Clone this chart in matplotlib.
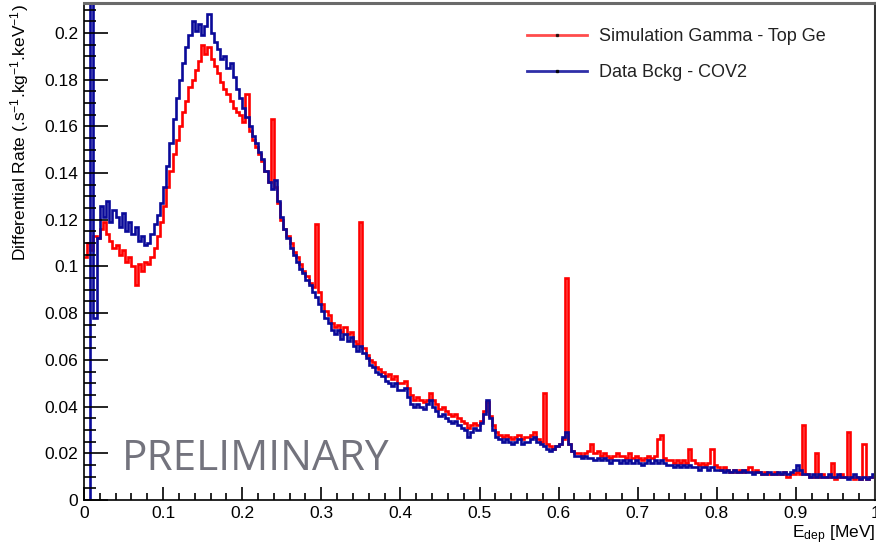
import numpy as np
import matplotlib
matplotlib.use("Agg")
import matplotlib.pyplot as plt
from matplotlib.lines import Line2D
from matplotlib.ticker import MultipleLocator, FuncFormatter

plt.rcParams['font.family'] = ['Liberation Sans', 'DejaVu Sans']
plt.rcParams['mathtext.fontset'] = 'custom'
plt.rcParams['mathtext.rm'] = 'Liberation Sans'
plt.rcParams['mathtext.it'] = 'Liberation Sans:italic'
plt.rcParams['mathtext.bf'] = 'Liberation Sans:bold'

# ---- data: 4 keV bins from 0 to 1 MeV ----
energy_min_mev = 0.0
energy_max_mev = 1.0

sim_gamma_top_ge = [
    0.104, 0.110, 0.107, 0.113, 0.112, 0.116, 0.119, 0.114, 0.111, 0.108,
    0.109, 0.105, 0.107, 0.102, 0.104, 0.100, 0.092, 0.101, 0.098, 0.102,
    0.101, 0.104, 0.108, 0.113, 0.119, 0.126, 0.134, 0.141, 0.148, 0.154,
    0.160, 0.166, 0.171, 0.177, 0.180, 0.184, 0.188, 0.195, 0.191, 0.194,
    0.189, 0.186, 0.183, 0.179, 0.176, 0.174, 0.171, 0.168, 0.166, 0.165,
    0.162, 0.174, 0.158, 0.154, 0.151, 0.148, 0.145, 0.141, 0.136, 0.163,
    0.134, 0.127, 0.120, 0.116, 0.113, 0.110, 0.106, 0.104, 0.101, 0.098,
    0.096, 0.093, 0.091, 0.118, 0.089, 0.084, 0.081, 0.079, 0.076, 0.074,
    0.075, 0.072, 0.074, 0.071, 0.072, 0.068, 0.067, 0.119, 0.065, 0.062,
    0.060, 0.059, 0.057, 0.056, 0.055, 0.053, 0.054, 0.052, 0.053, 0.050,
    0.050, 0.051, 0.048, 0.045, 0.043, 0.044, 0.043, 0.042, 0.043, 0.046,
    0.043, 0.041, 0.039, 0.040, 0.038, 0.037, 0.036, 0.037, 0.035, 0.034,
    0.033, 0.031, 0.032, 0.033, 0.032, 0.034, 0.038, 0.042, 0.036, 0.032,
    0.029, 0.028, 0.027, 0.028, 0.027, 0.026, 0.027, 0.028, 0.026, 0.027,
    0.027, 0.028, 0.029, 0.026, 0.025, 0.046, 0.024, 0.023, 0.022, 0.023,
    0.024, 0.026, 0.095, 0.024, 0.021, 0.020, 0.020, 0.019, 0.020, 0.021,
    0.024, 0.020, 0.021, 0.019, 0.020, 0.019, 0.018, 0.019, 0.020, 0.019,
    0.019, 0.018, 0.020, 0.018, 0.019, 0.018, 0.017, 0.018, 0.019, 0.018,
    0.019, 0.026, 0.028, 0.018, 0.017, 0.017, 0.016, 0.017, 0.016, 0.017,
    0.016, 0.022, 0.017, 0.016, 0.015, 0.016, 0.015, 0.016, 0.022, 0.015,
    0.014, 0.013, 0.014, 0.013, 0.012, 0.013, 0.012, 0.013, 0.012, 0.013,
    0.014, 0.012, 0.013, 0.012, 0.011, 0.012, 0.011, 0.011, 0.012, 0.011,
    0.011, 0.012, 0.010, 0.011, 0.011, 0.012, 0.011, 0.032, 0.011, 0.010,
    0.010, 0.020, 0.010, 0.011, 0.010, 0.010, 0.016, 0.009, 0.010, 0.011,
    0.010, 0.029, 0.010, 0.009, 0.010, 0.009, 0.024, 0.009, 0.010, 0.010,
]

data_bckg_cov2 = [
    0.000, 0.000, 0.250, 0.078, 0.112, 0.126, 0.121, 0.128, 0.119, 0.124,
    0.121, 0.117, 0.123, 0.115, 0.119, 0.114, 0.117, 0.111, 0.113, 0.109,
    0.110, 0.114, 0.118, 0.122, 0.127, 0.134, 0.143, 0.153, 0.163, 0.172,
    0.180, 0.187, 0.194, 0.199, 0.205, 0.201, 0.204, 0.199, 0.203, 0.208,
    0.200, 0.196, 0.193, 0.189, 0.190, 0.185, 0.187, 0.181, 0.176, 0.172,
    0.168, 0.164, 0.160, 0.156, 0.153, 0.149, 0.146, 0.141, 0.136, 0.133,
    0.137, 0.128, 0.121, 0.116, 0.112, 0.108, 0.105, 0.102, 0.099, 0.097,
    0.094, 0.092, 0.089, 0.087, 0.084, 0.081, 0.078, 0.076, 0.073, 0.071,
    0.073, 0.069, 0.071, 0.068, 0.070, 0.066, 0.064, 0.066, 0.063, 0.061,
    0.058, 0.057, 0.055, 0.054, 0.053, 0.051, 0.050, 0.049, 0.050, 0.047,
    0.047, 0.048, 0.044, 0.041, 0.040, 0.041, 0.040, 0.039, 0.041, 0.043,
    0.040, 0.038, 0.036, 0.037, 0.035, 0.034, 0.033, 0.034, 0.032, 0.031,
    0.030, 0.027, 0.029, 0.031, 0.030, 0.033, 0.037, 0.043, 0.035, 0.030,
    0.027, 0.026, 0.025, 0.026, 0.025, 0.024, 0.025, 0.026, 0.024, 0.025,
    0.025, 0.026, 0.027, 0.025, 0.024, 0.023, 0.022, 0.021, 0.022, 0.023,
    0.024, 0.027, 0.029, 0.024, 0.021, 0.019, 0.019, 0.018, 0.019, 0.018,
    0.018, 0.017, 0.018, 0.017, 0.018, 0.017, 0.016, 0.017, 0.017, 0.016,
    0.017, 0.016, 0.017, 0.016, 0.017, 0.016, 0.015, 0.016, 0.017, 0.016,
    0.017, 0.016, 0.017, 0.016, 0.015, 0.015, 0.014, 0.015, 0.014, 0.015,
    0.014, 0.015, 0.014, 0.014, 0.013, 0.014, 0.014, 0.013, 0.014, 0.013,
    0.013, 0.013, 0.012, 0.013, 0.012, 0.013, 0.012, 0.012, 0.013, 0.012,
    0.012, 0.011, 0.012, 0.012, 0.011, 0.011, 0.012, 0.011, 0.011, 0.012,
    0.011, 0.012, 0.011, 0.012, 0.013, 0.015, 0.013, 0.011, 0.011, 0.010,
    0.011, 0.010, 0.011, 0.010, 0.010, 0.011, 0.010, 0.010, 0.011, 0.010,
    0.010, 0.009, 0.010, 0.011, 0.010, 0.009, 0.010, 0.009, 0.010, 0.011,
]

series_labels = ["Simulation Gamma - Top Ge", "Data Bckg - COV2"]
x_tick_values = [0, 0.1, 0.2, 0.3, 0.4, 0.5, 0.6, 0.7, 0.8, 0.9, 1.0]
y_tick_values = [0, 0.02, 0.04, 0.06, 0.08, 0.1, 0.12, 0.14, 0.16, 0.18, 0.2]

RED = '#ff0000'
BLUE = '#0a0a99'

fig = plt.figure(figsize=(8.76, 5.47), dpi=100)
W, H = 876, 547
ax = fig.add_axes([84 / W, 1 - 500 / H, (875 - 84) / W, (500 - 3) / H])

edges = np.linspace(energy_min_mev, energy_max_mev, len(sim_gamma_top_ge) + 1)
ax.stairs(sim_gamma_top_ge, edges, color=RED, lw=1.9, baseline=None)
ax.stairs(data_bckg_cov2, edges, color=BLUE, lw=1.9, baseline=None)

ax.set_xlim(0, 1.0)
ax.set_ylim(0, 0.2128)

ax.set_xticks(x_tick_values)
ax.set_yticks(y_tick_values)
ax.xaxis.set_minor_locator(MultipleLocator(0.02))
ax.yaxis.set_minor_locator(MultipleLocator(0.005))
fmt = FuncFormatter(lambda v, p: ('%g' % round(v, 4)))
ax.xaxis.set_major_formatter(fmt)
ax.yaxis.set_major_formatter(fmt)
ax.tick_params(axis='both', which='both', direction='in', top=False, right=False,
               labelsize=12.5, colors='black', width=1.2)
ax.tick_params(axis='y', which='major', length=17, pad=4)
ax.tick_params(axis='y', which='minor', length=8.5)
ax.tick_params(axis='x', which='major', length=9.5, pad=4.5)
ax.tick_params(axis='x', which='minor', length=5)

for s in ['left', 'bottom']:
    ax.spines[s].set_linewidth(1.2)
    ax.spines[s].set_color('black')
ax.spines['top'].set_linewidth(2.2)
ax.spines['top'].set_color('#6a6a6a')
ax.spines['right'].set_linewidth(1.5)
ax.spines['right'].set_color('#333333')

fig.text(20 / W, 1 - 4 / H, r"Differential Rate (.s$^{-1}$.kg$^{-1}$.keV$^{-1}$)",
         rotation=90, ha='center', va='top', fontsize=12.5)
fig.text(875 / W, 1 - 538 / H, r"E$_{\mathrm{dep}}$ [MeV]", ha='right',
         va='baseline', fontsize=12.5)

ax.text((122 - 84) / 791, (500 - 470) / 497, "PRELIMINARY", transform=ax.transAxes,
        fontsize=30.5, family='Open Sans', color='#73737d', ha='left', va='baseline')

handles = [Line2D([], [], color=RED, lw=2, alpha=0.7, marker='s', markersize=1.5,
                  markerfacecolor='k', markeredgecolor='k'),
           Line2D([], [], color=BLUE, lw=2, alpha=0.85, marker='s', markersize=1.5,
                  markerfacecolor='k', markeredgecolor='k')]
leg = ax.legend(handles, series_labels, loc='upper left',
                bbox_to_anchor=(527 / W, 1 - 28 / H), bbox_transform=fig.transFigure,
                frameon=False, fontsize=13, handlelength=3.3, handletextpad=0.7,
                labelspacing=1.05, borderpad=0, borderaxespad=0)
for t in leg.get_texts():
    t.set_color('#222222')

fig.savefig('out.png', dpi=100)
